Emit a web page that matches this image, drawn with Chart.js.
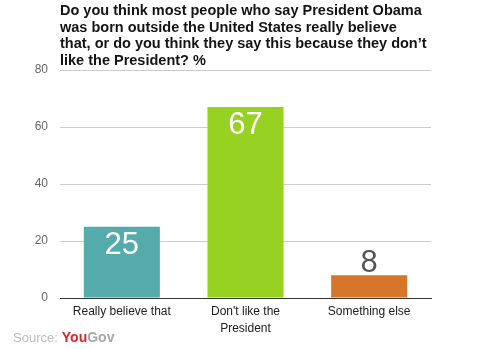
<!DOCTYPE html>
<html>
<head>
<meta charset="utf-8">
<script src="https://cdn.jsdelivr.net/npm/chart.js@4/dist/chart.umd.min.js"></script>
<style>
  html, body { margin: 0; padding: 0; background: #fff; }
  #wrap { width: 501px; height: 349px; }
</style>
</head>
<body>
<div id="wrap"><canvas id="chart" width="501" height="349"></canvas></div>
<script>
const titleLines = [
  'Do you think most people who say President Obama',
  'was born outside the United States really believe',
  'that, or do you think they say this because they don\u2019t',
  'like the President? %'
];
const categories = [['Really believe that'], ["Don't like the", 'President'], ['Something else']];
const values = [25, 67, 8];
const barColors = ['#55abac', '#97d121', '#d57628'];
const yTicks = [0, 20, 40, 60, 80];

// title, value labels and source line
const extras = {
  id: 'extras',
  afterDatasetsDraw(chart) {
    const ctx = chart.ctx;
    const left = chart.chartArea.left;
    ctx.save();
    ctx.fillStyle = '#141414';
    ctx.font = 'bold 14.5px "Liberation Sans", Arial, sans-serif';
    ctx.textAlign = 'left';
    ctx.textBaseline = 'alphabetic';
    titleLines.forEach((line, i) => ctx.fillText(line, left, 15 + i * 16.6));

    const meta = chart.getDatasetMeta(0);
    ctx.font = '31px "Liberation Sans", Arial, sans-serif';
    ctx.textAlign = 'center';
    meta.data.forEach((bar, i) => {
      const h = bar.base - bar.y;
      if (h > 40) {
        ctx.fillStyle = '#ffffff';
        ctx.fillText(String(values[i]), bar.x, bar.y + 27);
      } else {
        ctx.fillStyle = '#555555';
        ctx.fillText(String(values[i]), bar.x, bar.y - 3);
      }
    });

    ctx.textAlign = 'left';
    ctx.font = '13px "Liberation Sans", Arial, sans-serif';
    ctx.fillStyle = '#bbbbbb';
    ctx.fillText('Source:', 13, 342);
    let x = 13 + ctx.measureText('Source:').width + 4;
    ctx.font = 'bold 14px "Liberation Sans", Arial, sans-serif';
    ctx.fillStyle = '#d9272e';
    ctx.fillText('You', x, 342);
    x += ctx.measureText('You').width;
    ctx.fillStyle = '#a8a8a8';
    ctx.fillText('Gov', x, 342);
    ctx.restore();
  }
};

new Chart(document.getElementById('chart'), {
  type: 'bar',
  data: {
    labels: categories,
    datasets: [{
      data: values,
      backgroundColor: barColors,
      borderWidth: 0,
      categoryPercentage: 1,
      barPercentage: 0.615
    }]
  },
  options: {
    responsive: false,
    animation: false,
    layout: { padding: { top: 70, right: 70, left: 0, bottom: 0 } },
    plugins: { legend: { display: false }, tooltip: { enabled: false }, title: { display: false } },
    scales: {
      x: {
        grid: { display: false, drawTicks: false },
        border: { color: '#333333', width: 1 },
        ticks: {
          color: '#222222',
          padding: 6,
          font: { family: '"Liberation Sans", Arial, sans-serif', size: 12, lineHeight: 1.35 },
          maxRotation: 0
        },
        afterFit(scale) { scale.height = 51; }
      },
      y: {
        min: 0,
        max: 80,
        border: { display: false },
        grid: { color: '#cccccc', drawTicks: false },
        afterBuildTicks(scale) { scale.ticks = yTicks.map(v => ({ value: v })); },
        ticks: {
          color: '#666666',
          padding: 12,
          font: { family: '"Liberation Sans", Arial, sans-serif', size: 12 }
        },
        afterFit(scale) { scale.width = 60; }
      }
    }
  },
  plugins: [extras]
});
</script>
</body>
</html>
